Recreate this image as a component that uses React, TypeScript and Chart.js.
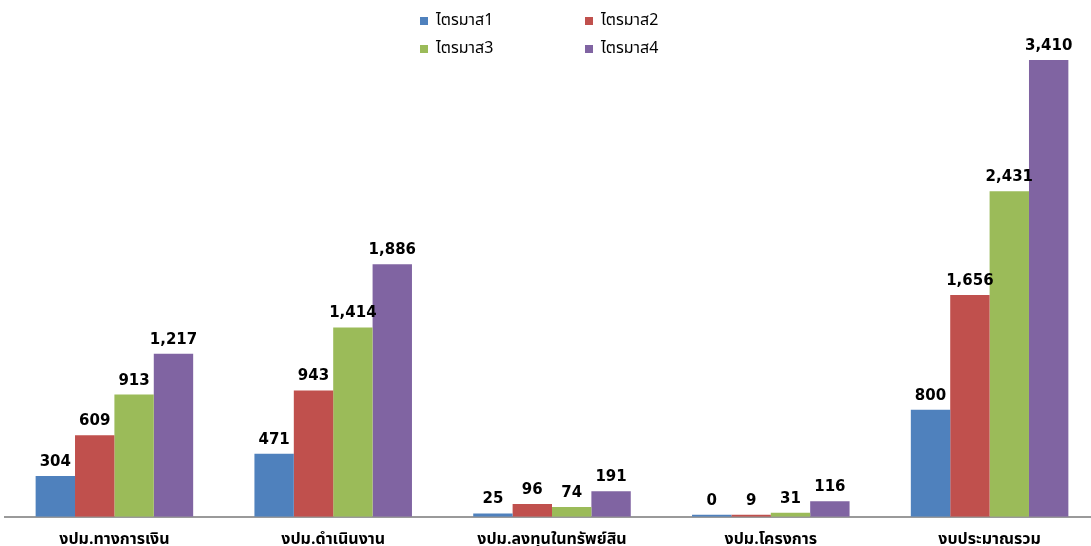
import React, { useEffect, useRef } from "react";
import { Chart, registerables } from "chart.js";

Chart.register(...registerables);

const categories = [
  "งปม.ทางการเงิน",
  "งปม.ดำเนินงาน",
  "งปม.ลงทุนในทรัพย์สิน",
  "งปม.โครงการ",
  "งบประมาณรวม",
];
const seriesNames = ["ไตรมาส1", "ไตรมาส2", "ไตรมาส3", "ไตรมาส4"];
const q1 = [304, 471, 25, 0, 800];
const q2 = [609, 943, 96, 9, 1656];
const q3 = [913, 1414, 74, 31, 2431];
const q4 = [1217, 1886, 191, 116, 3410];
const colors = ["#4F81BD", "#C0504D", "#9BBB59", "#8064A2"];

const FONT = "Tahoma, 'Noto Sans Thai', 'DejaVu Sans', sans-serif";
const NUM_FONT = "'DejaVu Sans', Tahoma, sans-serif";

const labelPlugin = {
  id: "barLabels",
  afterDatasetsDraw(chart: any) {
    const ctx = chart.ctx;
    ctx.save();
    ctx.font = "bold 15px " + NUM_FONT;
    ctx.fillStyle = "#000";
    ctx.textAlign = "center";
    ctx.textBaseline = "alphabetic";
    chart.data.datasets.forEach((ds: any, i: number) => {
      const meta = chart.getDatasetMeta(i);
      meta.data.forEach((bar: any, j: number) => {
        const v = ds.data[j];
        ctx.fillText(v.toLocaleString("en-US"), bar.x, bar.y - 10);
      });
    });
    ctx.restore();
  },
};

export default function App() {
  const ref = useRef<HTMLCanvasElement>(null);
  useEffect(() => {
    const all = [q1, q2, q3, q4];
    const chart = new Chart(ref.current!, {
      type: "bar",
      data: {
        labels: categories,
        datasets: all.map((d, i) => ({
          label: seriesNames[i],
          data: d,
          backgroundColor: colors[i],
          borderWidth: 0,
          minBarLength: 2,
          barPercentage: 1,
          categoryPercentage: 0.72,
        })),
      },
      options: {
        animation: false,
        responsive: false,
        maintainAspectRatio: false,
        layout: { padding: { top: 48, left: 5, right: 1, bottom: -18 } },
        plugins: { legend: { display: false }, tooltip: { enabled: false } },
        scales: {
          y: { display: false, min: 0, max: 3500 },
          x: {
            grid: { display: false, drawTicks: false },
            border: { display: true, color: "#9a9a9a", width: 2 },
            ticks: {
              color: "#000",
              padding: 14,
              font: { family: FONT, size: 16, weight: "bold" },
              maxRotation: 0,
              autoSkip: false,
            },
          },
        },
      },
      plugins: [labelPlugin],
    });
    return () => chart.destroy();
  }, []);

  const legendPos = [
    { left: 420, top: 11 },
    { left: 585, top: 11 },
    { left: 420, top: 39 },
    { left: 585, top: 39 },
  ];

  return (
    <div
      style={{
        position: "fixed",
        left: 0,
        top: 0,
        width: 1091,
        height: 546,
        overflow: "hidden",
        background: "#fff",
      }}
    >
      <canvas ref={ref} width={1100} height={546} style={{ position: "absolute", left: 0, top: 0, width: 1100, height: 546 }} />
      {seriesNames.map((n, i) => (
        <div
          key={n}
          style={{
            position: "absolute",
            left: legendPos[i].left,
            top: legendPos[i].top,
            display: "flex",
            alignItems: "center",
            fontFamily: FONT,
            fontSize: 16,
            lineHeight: "18px",
            color: "#000",
          }}
        >
          <span style={{ display: "inline-block", width: 8, height: 8, background: colors[i], marginRight: 8, marginTop: 2 }} />
          <span>{n}</span>
        </div>
      ))}
    </div>
  );
}
